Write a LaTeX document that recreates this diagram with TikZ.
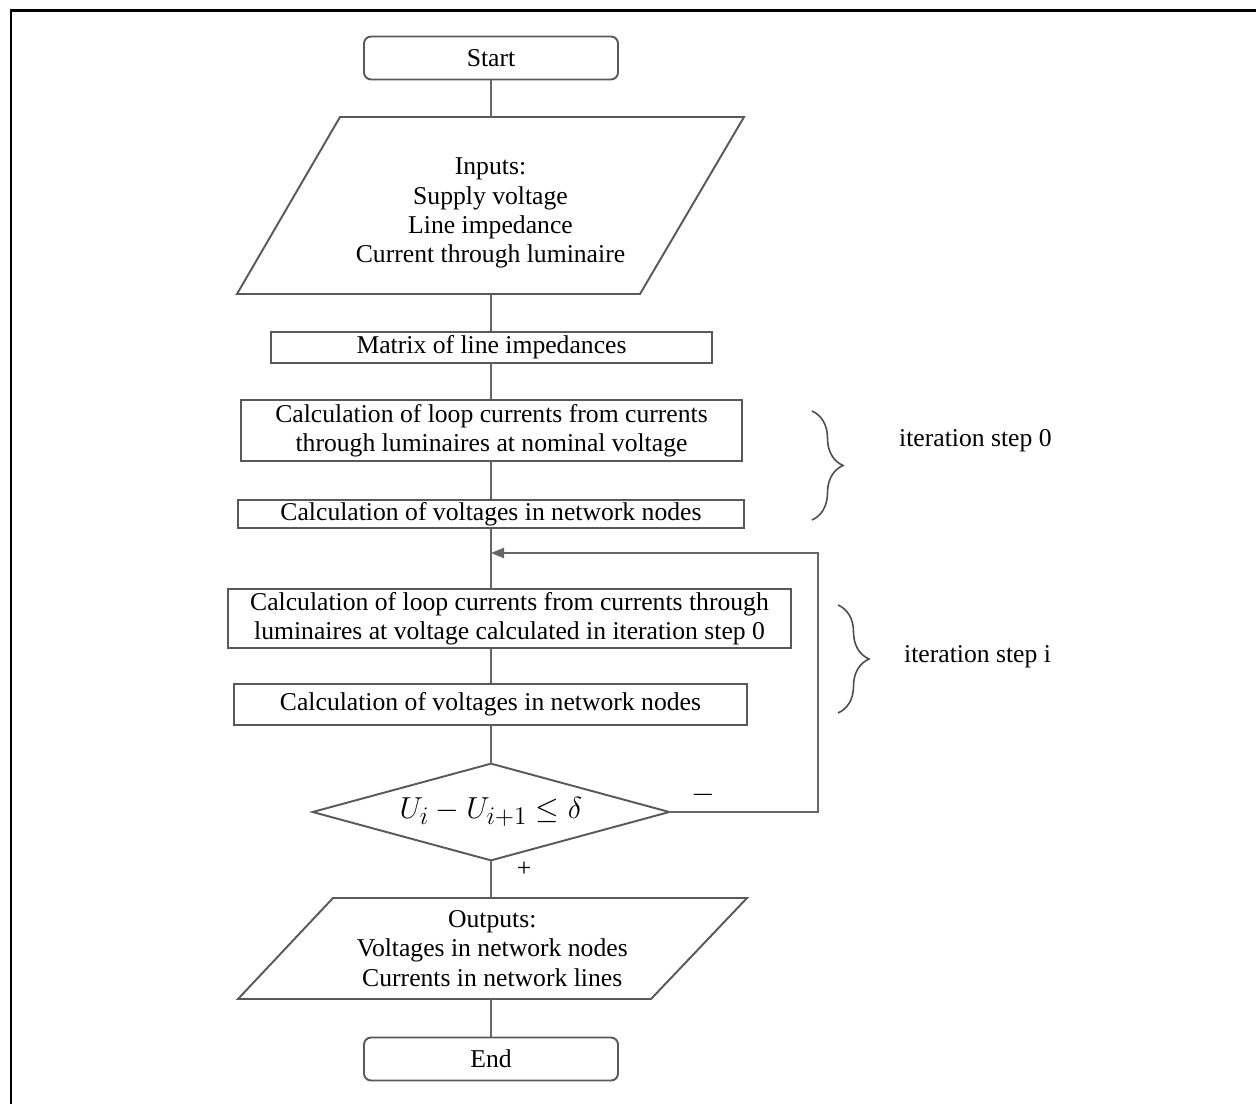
\documentclass[tikz,border=0pt]{standalone}
\usepackage{fontspec}
\setmainfont{Liberation Serif}
\usetikzlibrary{decorations.pathreplacing,arrows.meta}
\newcommand\pw[1]{#1*0.02cm}
\begin{document}
\begin{tikzpicture}[x=0.02cm,y=-0.02cm,
  txt/.style={font=\fontsize{14.6}{16.6}\selectfont, text=black},
  box/.style={txt, draw=black!65, line width=1.1pt, inner sep=0pt, align=center},
  rbox/.style={box, rounded corners=4pt},
  pbox/.style={txt, draw=none, inner sep=0pt, align=center},
  outline/.style={draw=black!65, line width=1.1pt},
  conn/.style={draw=black!60, line width=1.1pt},
  brc/.style={draw=black!70, line width=0.9pt, decorate, decoration={brace, amplitude=\pw{31}}}]
\useasboundingbox (0,0) rectangle (1256,1104);
\draw[line width=1.7pt] (11,1104) -- (11,11) -- (1256,11);

\node[rbox, minimum width=\pw{254}, minimum height=\pw{43}] (start) at (491,58) {Start};
\node[pbox, minimum width=\pw{300}, minimum height=\pw{177}] (inp) at (490.5,205.5) {};
\node[pbox] (inptxt) at (490.5,213) {Inputs:\\Supply voltage\\Line impedance\\Current through luminaire};
\draw[outline] (340,117) -- (744,117) -- (640,294) -- (237,294) -- cycle;
\node[box, minimum width=\pw{441}, minimum height=\pw{31}] (mat) at (491.5,347.5) {Matrix of line impedances};
\node[box, minimum width=\pw{501}, minimum height=\pw{61}] (lc1) at (491.5,430.5) {Calculation of loop currents from currents\\through luminaires at nominal voltage};
\node[box, minimum width=\pw{506}, minimum height=\pw{28}] (vc1) at (491,514) {Calculation of voltages in network nodes};
\node[box, minimum width=\pw{563}, minimum height=\pw{59}] (lc2) at (509.5,618.5) {Calculation of loop currents from currents through\\luminaires at voltage calculated in iteration step 0};
\node[box, minimum width=\pw{513}, minimum height=\pw{41}] (vc2) at (490.5,704.5) {Calculation of voltages in network nodes};
\node[pbox, minimum width=\pw{356}, minimum height=\pw{96}, font=\fontsize{19}{22}\selectfont] (dec) at (491,812) {$U_i - U_{i+1} \le \delta$};
\draw[outline] (dec.north) -- (dec.east) -- (dec.south) -- (dec.west) -- cycle;
\node[pbox, minimum width=\pw{300}, minimum height=\pw{101}] (outp) at (492.25,948.5) {Outputs:\\Voltages in network nodes\\Currents in network lines};
\draw[outline] (333,898) -- (747,898) -- (651,999) -- (238,999) -- cycle;
\node[rbox, minimum width=\pw{254}, minimum height=\pw{43}] (end) at (491,1059) {End};

\draw[conn] (start.south) -- (start.south |- inp.north);
\draw[conn] (start.south |- inp.south) -- (start.south |- mat.north);
\draw[conn] (start.south |- mat.south) -- (start.south |- lc1.north);
\draw[conn] (start.south |- lc1.south) -- (start.south |- vc1.north);
\draw[conn] (vc1.south) -- (vc1.south |- lc2.north);
\draw[conn] (vc1.south |- lc2.south) -- (vc1.south |- vc2.north);
\draw[conn] (vc1.south |- vc2.south) -- (dec.north);
\draw[conn] (dec.south) -- (dec.south |- outp.north);
\draw[conn] (dec.south |- outp.south) -- (end.north);

\coordinate (fb) at (491,553);
\coordinate (fbc) at (818,553);
\draw[conn, -{Triangle[length=\pw{13}, width=\pw{10}]}] (dec.east) -| (fbc) -- (fb);

\node[txt, font=\fontsize{16}{18}\selectfont] (minus) at (703,795) {$-$};
\node[txt] (plus) at (524,869) {+};

\draw[brc] (812,411) -- (812,520);
\draw[brc] (838,605) -- (838,713);
\node[txt, anchor=west] (it0) at (893,441) {iteration step 0};
\node[txt, anchor=west] (iti) at (898,657) {iteration step i};
\end{tikzpicture}
\end{document}
